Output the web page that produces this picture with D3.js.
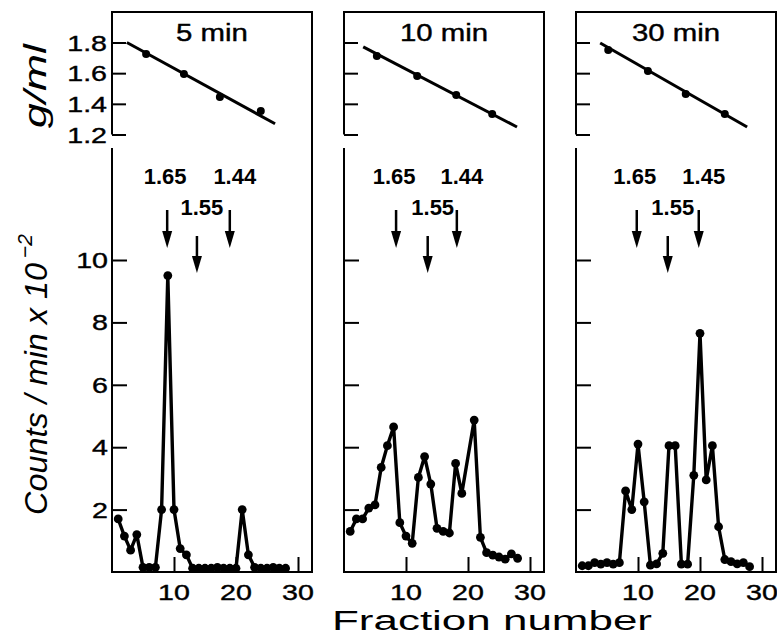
<!DOCTYPE html>
<html>
<head>
<meta charset="utf-8">
<script src="https://cdn.jsdelivr.net/npm/d3@7"></script>
<style>
  body { margin: 0; background: #fff; }
  svg { display: block; }
</style>
</head>
<body>
<svg id="chart" width="777" height="639"></svg>
<script>
// ---- data ----
const panelTitles = ['5 min', '10 min', '30 min'];

const fractions5 = d3.range(1, 29);
const counts5 = [1.7, 1.15, 0.7, 1.2, 0.15, 0.15, 0.15, 2.0, 9.5, 2.0, 0.75, 0.55, 0.12, 0.12,
  0.12, 0.12, 0.15, 0.12, 0.12, 0.12, 2.0, 0.55, 0.15, 0.12, 0.12, 0.15, 0.12, 0.12];

const fractions10 = d3.range(1, 20).concat(d3.range(21, 29));
const counts10 = [1.3, 1.7, 1.7, 2.05, 2.15, 3.35, 4.05, 4.65, 1.58, 1.15, 0.92, 3.03, 3.7, 2.82,
  1.4, 1.3, 1.25, 3.48, 2.52, 4.87, 1.11, 0.62, 0.54, 0.48, 0.41, 0.58, 0.44];

const fractions30 = d3.range(1, 29);
const counts30 = [0.2, 0.2, 0.3, 0.25, 0.3, 0.25, 0.3, 2.6, 2.0, 4.1, 2.25, 0.22, 0.26, 0.6,
  4.05, 4.05, 0.25, 0.25, 3.1, 7.65, 2.95, 4.05, 1.45, 0.4, 0.33, 0.26, 0.3, 0.17];

// density (g/ml) points and fitted line ends
const densFractions5 = [5.5, 11.6, 17.4, 24.0];
const densValues5 = [1.725, 1.595, 1.445, 1.353];
const fitFractions5 = [2.4, 26.3];
const fitValues5 = [1.80, 1.27];

const densFractions10 = [5.3, 11.8, 18.1, 23.9];
const densValues10 = [1.712, 1.581, 1.458, 1.334];
const fitFractions10 = [3.1, 27.9];
const fitValues10 = [1.771, 1.249];

const densFractions30 = [5.2, 11.6, 17.7, 24.0];
const densValues30 = [1.751, 1.614, 1.464, 1.334];
const fitFractions30 = [3.9, 27.6];
const fitValues30 = [1.797, 1.249];

// density markers (arrows)
const markerLabels5 = ['1.65', '1.55', '1.44'];
const markerFractions5 = [8.9, 13.7, 19.0];
const markerLabels10 = ['1.65', '1.55', '1.44'];
const markerFractions10 = [8.4, 13.5, 18.2];
const markerLabels30 = ['1.65', '1.55', '1.45'];
const markerFractions30 = [9.8, 14.8, 19.8];

const densTicks = [1.2, 1.4, 1.6, 1.8];
const countTicks = [2, 4, 6, 8, 10];
const fractionTicks = [10, 20, 30];

const panels = [
  { title: panelTitles[0], f: fractions5, c: counts5, df: densFractions5, dv: densValues5, ff: fitFractions5, fv: fitValues5, ml: markerLabels5, mf: markerFractions5 },
  { title: panelTitles[1], f: fractions10, c: counts10, df: densFractions10, dv: densValues10, ff: fitFractions10, fv: fitValues10, ml: markerLabels10, mf: markerFractions10 },
  { title: panelTitles[2], f: fractions30, c: counts30, df: densFractions30, dv: densValues30, ff: fitFractions30, fv: fitValues30, ml: markerLabels30, mf: markerFractions30 }
];

// ---- layout ----
const panelLefts = [112, 344, 576];
const panelW = 200;
const frameTop = 12;
const lowerTop = 148;
const baseY = 572;
const font = 'Liberation Sans, Arial, Helvetica, sans-serif';

const svg = d3.select('#chart');

const yDens = d3.scaleLinear().domain([1.2, 1.8]).range([134.5, 42.5]);
const yCount = d3.scaleLinear().domain([0, 10]).range([baseY, 260]);

// the original lettering is wider and heavier than the installed fonts
function wideText(g, x, y, str, size, sx, anchor) {
  return g.append('text')
    .attr('transform', `translate(${x},${y}) scale(${sx},1)`)
    .attr('text-anchor', anchor)
    .style('font-family', font)
    .style('font-size', size + 'px')
    .attr('fill', '#000')
    .attr('stroke', '#000')
    .attr('stroke-width', 0.4)
    .text(str);
}

panels.forEach((p, idx) => {
  const left = panelLefts[idx];
  const x = d3.scaleLinear().domain([0, panelW / 6.2]).range([left, left + panelW]);
  const g = svg.append('g').attr('class', 'panel');

  // frame
  g.append('path')
    .attr('d', `M${left},${yDens(1.2)}V${frameTop}H${left + panelW}V${baseY}H${left}V${lowerTop}`)
    .attr('stroke', '#000').attr('stroke-width', 2).attr('fill', 'none');

  // inward ticks
  g.append('g')
    .attr('transform', `translate(${left},0)`)
    .call(d3.axisRight(yDens).tickValues(densTicks).tickSize(14).tickFormat(''))
    .call(a => a.select('.domain').remove())
    .selectAll('line').attr('stroke-width', 2);

  g.append('g')
    .attr('transform', `translate(${left},0)`)
    .call(d3.axisRight(yCount).tickValues(countTicks).tickSize(15).tickFormat(''))
    .call(a => a.select('.domain').remove())
    .selectAll('line').attr('stroke-width', 2);

  g.append('g')
    .attr('transform', `translate(0,${baseY})`)
    .call(d3.axisTop(x).tickValues(fractionTicks).tickSize(15).tickFormat(''))
    .call(a => a.select('.domain').remove())
    .selectAll('line').attr('stroke-width', 2);

  fractionTicks.forEach(t => wideText(g, x(t), 600, t, 22, 1.3, 'middle'));

  if (idx === 0) {
    densTicks.forEach(t => wideText(g, left - 5, yDens(t) + 8, t.toFixed(1), 22, 1.3, 'end'));
    countTicks.forEach(t => wideText(g, left - 4, yCount(t) + 8, t, 22, 1.3, 'end'));
  }

  // title
  wideText(g, left + panelW / 2, 41, p.title, 23.5, 1.25, 'middle');

  // density line
  const fit = p.ff.map((f, i) => ({ f: f, v: p.fv[i] }));
  g.append('path')
    .datum(fit)
    .attr('fill', 'none').attr('stroke', '#000').attr('stroke-width', 3)
    .attr('d', d3.line().x(d => x(d.f)).y(d => yDens(d.v)));
  g.selectAll('.dens')
    .data(p.df.map((f, i) => ({ f: f, v: p.dv[i] })))
    .join('circle')
    .attr('class', 'dens')
    .attr('cx', d => x(d.f)).attr('cy', d => yDens(d.v)).attr('r', 4).attr('fill', '#000');

  // arrows
  const labelDx = [-2, 5, 5];
  p.mf.forEach((f, i) => {
    const ax = x(f);
    const mid = i === 1;
    const y0 = mid ? 236 : 210;
    const tip = mid ? 273 : 248;
    g.append('line')
      .attr('x1', ax).attr('x2', ax).attr('y1', y0).attr('y2', tip - 12)
      .attr('stroke', '#000').attr('stroke-width', 2.5);
    g.append('path')
      .attr('d', `M${ax - 5},${tip - 17}L${ax + 5},${tip - 17}L${ax},${tip}Z`)
      .attr('fill', '#000');
    g.append('text')
      .attr('x', ax + labelDx[i]).attr('y', mid ? 215 : 184)
      .attr('text-anchor', 'middle')
      .style('font-family', font)
      .style('font-weight', 'bold')
      .style('font-size', '22px')
      .text(p.ml[i]);
  });

  // counts profile
  const pts = p.f.map((f, i) => ({ f: f, v: p.c[i] }));
  g.append('path')
    .datum(pts)
    .attr('fill', 'none').attr('stroke', '#000').attr('stroke-width', 3.4)
    .attr('stroke-linejoin', 'round')
    .attr('d', d3.line().x(d => x(d.f)).y(d => yCount(d.v)));
  g.selectAll('.pt')
    .data(pts)
    .join('circle')
    .attr('class', 'pt')
    .attr('cx', d => x(d.f)).attr('cy', d => yCount(d.v)).attr('r', 4.4).attr('fill', '#000');
});

// axis titles
svg.append('text')
  .attr('x', 332).attr('y', 630)
  .attr('textLength', 320).attr('lengthAdjust', 'spacingAndGlyphs')
  .style('font-family', font).style('font-size', '27px')
  .text('Fraction number');

svg.append('text')
  .attr('transform', 'translate(46,128) rotate(-90)')
  .attr('textLength', 84).attr('lengthAdjust', 'spacingAndGlyphs')
  .style('font-family', font).style('font-style', 'italic')
  .style('font-size', '31px')
  .text('g/ml');

svg.append('text')
  .attr('transform', 'translate(47,515) rotate(-90)')
  .attr('textLength', 252).attr('lengthAdjust', 'spacingAndGlyphs')
  .style('font-family', font).style('font-style', 'italic')
  .style('font-size', '31px')
  .text('Counts / min  x 10');

svg.append('text')
  .attr('transform', 'translate(32,258) rotate(-90)')
  .style('font-family', font).style('font-style', 'italic')
  .style('font-size', '21px')
  .text('\u22122');
</script>
</body>
</html>
